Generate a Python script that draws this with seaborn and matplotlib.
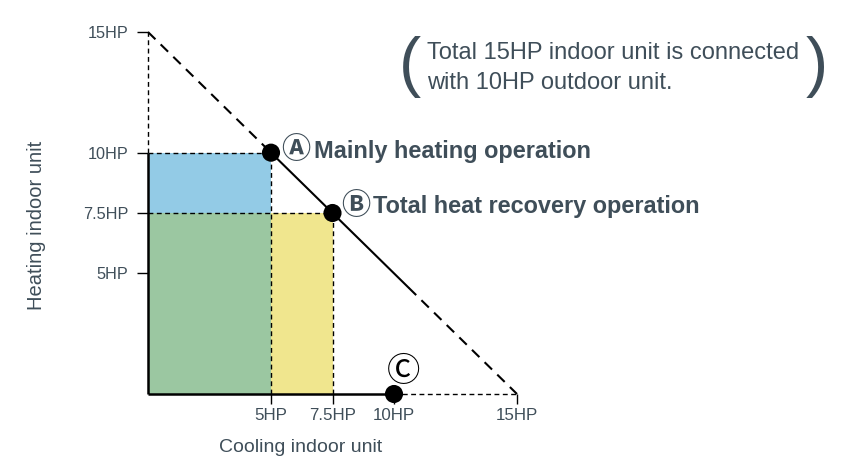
import matplotlib.pyplot as plt
import seaborn as sns
import pandas as pd
import numpy as np

# capacity values in HP
tick_values = [5, 7.5, 10, 15]
tick_labels = ["5HP", "7.5HP", "10HP", "15HP"]
total_indoor = 15
outdoor = 10
solid_end = 10.6  # where the solid part of the limit line stops

# operating points (cooling HP, heating HP)
point_names = ["A", "B", "C"]
point_cool = [5, 7.5, 10]
point_heat = [10, 7.5, 0]

# coloured regions: (x0, x1, y0, y1)
region_x0 = [0, 0, 5]
region_x1 = [5, 5, 7.5]
region_y0 = [7.5, 0, 0]
region_y1 = [10, 7.5, 7.5]
region_colors = ["#93cbe6", "#9bc7a1", "#f0e68e"]

txt = "#3f4e59"

sns.set_theme(style="white")
plt.rcParams["font.family"] = ["Liberation Sans", "Noto Sans CJK JP", "DejaVu Sans"]

fig = plt.figure(figsize=(8.6, 4.73), dpi=100)
ax = fig.add_axes([148 / 860, 1 - 394 / 473, 369 / 860, 362 / 473])
ax.set_xlim(0, total_indoor)
ax.set_ylim(0, total_indoor)
for s in ax.spines.values():
    s.set_visible(False)

# filled regions
for x0, x1, y0, y1, c in zip(region_x0, region_x1, region_y0, region_y1, region_colors):
    ax.fill_between([x0, x1], y0, y1, color=c, lw=0, zorder=1)

dash_thin = (0, (3.5, 2.5))
# guide lines to the points
ax.plot([0, point_cool[0]], [point_heat[0]] * 2, color="black", lw=1, ls=dash_thin, zorder=2)
ax.plot([0, point_cool[1]], [point_heat[1]] * 2, color="black", lw=1, ls=dash_thin, zorder=2)
ax.plot([point_cool[0]] * 2, [0, point_heat[0]], color="black", lw=1, ls=dash_thin, zorder=2)
ax.plot([point_cool[1]] * 2, [0, point_heat[1]], color="black", lw=1, ls=dash_thin, zorder=2)

# axes: solid up to outdoor capacity, dashed above
ax.plot([0, 0], [0, outdoor], color="black", lw=1.8, zorder=3, solid_capstyle="butt", clip_on=False)
ax.plot([0, 0], [outdoor, total_indoor], color="black", lw=1, ls=dash_thin, zorder=3, clip_on=False)
ax.plot([0, outdoor], [0, 0], color="black", lw=1.8, zorder=3, solid_capstyle="butt", clip_on=False)
ax.plot([outdoor, total_indoor], [0, 0], color="black", lw=1, ls=dash_thin, zorder=3, clip_on=False)

# limit line (total indoor capacity)
diag = pd.DataFrame({"cool": [0, point_cool[0], solid_end, total_indoor]})
diag["heat"] = total_indoor - diag["cool"]
ax.plot(diag["cool"][:2], diag["heat"][:2], color="black", lw=1.5, ls=(0, (5, 3.5)), zorder=3,
        clip_on=False)
ax.plot(diag["cool"][1:3], diag["heat"][1:3], color="black", lw=1.5, zorder=3)
ax.plot(diag["cool"][2:], diag["heat"][2:], color="black", lw=1.5, ls=(0, (5, 3.5)), zorder=3,
        clip_on=False)

# operating points
pts = pd.DataFrame({"cool": point_cool, "heat": point_heat, "name": point_names})
sns.scatterplot(data=pts, x="cool", y="heat", color="black", s=170, edgecolor="none",
                zorder=5, clip_on=False, ax=ax, legend=False)

# ticks
ax.set_xticks(tick_values)
ax.set_xticklabels(tick_labels)
ax.set_yticks(tick_values)
ax.set_yticklabels(tick_labels)
ax.tick_params(axis="x", direction="out", length=7, width=1, color="black", pad=3,
               labelsize=12.2, labelcolor=txt, bottom=True)
ax.tick_params(axis="y", direction="out", length=8, width=1, color="black", pad=6,
               labelsize=11.7, labelcolor=txt, left=True)
ax.set_xlabel("")
ax.set_ylabel("")

# axis titles
ax.text(6.2, -2.2, "Cooling indoor unit", ha="center", va="center", fontsize=14, color=txt,
        clip_on=False)
ax.text(-4.55, 7.0, "Heating indoor unit", ha="center", va="center", fontsize=14.5, color=txt,
        rotation=90, clip_on=False)

# point labels
ax.text(6.0, 10.1, "\u24b6", ha="center", va="center", fontsize=21, color=txt,
        fontweight="bold", clip_on=False)
ax.text(6.75, 10.05, "Mainly heating operation", ha="left", va="center", fontsize=16.9,
        fontweight="bold", color=txt, clip_on=False)
ax.text(8.43, 7.8, "\u24b7", ha="center", va="center", fontsize=21, color=txt,
        fontweight="bold", clip_on=False)
ax.text(9.15, 7.75, "Total heat recovery operation", ha="left", va="center", fontsize=16.9,
        fontweight="bold", color=txt, clip_on=False)
ax.text(10.4, 0.88, "\u24b8", ha="center", va="center", fontsize=24, color="black",
        clip_on=False)

# note
ax.text(11.35, 14.15, "Total 15HP indoor unit is connected", ha="left", va="center",
        fontsize=17, color=txt, clip_on=False)
ax.text(11.35, 12.9, "with 10HP outdoor unit.", ha="left", va="center",
        fontsize=17, color=txt, clip_on=False)
ax.text(10.65, 13.55, "(", ha="center", va="center", fontsize=48, color=txt,
        fontweight="light", clip_on=False)
ax.text(27.2, 13.55, ")", ha="center", va="center", fontsize=48, color=txt,
        fontweight="light", clip_on=False)

fig.savefig("out.png", dpi=100, facecolor="white")
